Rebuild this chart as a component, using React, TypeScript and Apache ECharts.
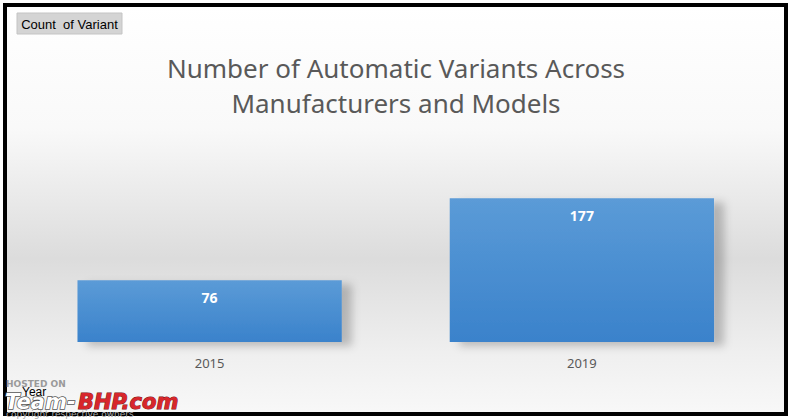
import React, { useEffect, useRef } from "react";
import * as echarts from "echarts";

const categories = ["2015", "2019"];
const variantCounts = [76, 177];
const titleLines = ["Number of Automatic Variants Across", "Manufacturers and Models"];

export default function App() {
  const ref = useRef<HTMLDivElement>(null);
  useEffect(() => {
    document.body.style.margin = "0";
    const chart = echarts.init(ref.current!, null, { renderer: "svg" });
    chart.setOption({
      animation: false,
      backgroundColor: "#ffffff",
      grid: { left: 23.5, right: 25, top: 139, bottom: 78 },
      xAxis: {
        type: "category",
        data: categories,
        axisLine: { show: false },
        axisTick: { show: false },
        axisLabel: { color: "#595959", fontSize: 13, margin: 14, fontFamily: "Noto Sans" },
      },
      yAxis: { type: "value", min: 0, max: 250, show: false, splitLine: { show: false } },
      graphic: [
        {
          type: "rect",
          z: -10,
          shape: { x: 5, y: 5, width: 781, height: 409 },
          style: {
            fill: new echarts.graphic.LinearGradient(0, 0, 0, 1, [
              { offset: 0, color: "#ffffff" },
              { offset: 0.3, color: "#f9f9f9" },
              { offset: 0.62, color: "#dcdcdc" },
              { offset: 0.85, color: "#efefef" },
              { offset: 1, color: "#f8f8f8" },
            ]),
            stroke: "#000000",
            lineWidth: 4,
          },
        },
        {
          type: "rect",
          shape: { x: 17, y: 13, width: 105, height: 21 },
          style: { fill: "#d4d4d4", stroke: "#c4c4c4", lineWidth: 1 },
        },
        {
          type: "text",
          x: 69.5,
          y: 24,
          style: {
            text: "Count  of Variant",
            fill: "#000000",
            font: "13px 'Liberation Sans'",
            align: "center",
            verticalAlign: "middle",
          },
        },
        {
          type: "text",
          x: 396,
          y: 68,
          style: {
            text: titleLines[0],
            fill: "#595959",
            font: "26px 'Noto Sans'",
            align: "center",
            verticalAlign: "middle",
          },
        },
        {
          type: "text",
          x: 396,
          y: 103,
          style: {
            text: titleLines[1],
            fill: "#595959",
            font: "26px 'Noto Sans'",
            align: "center",
            verticalAlign: "middle",
          },
        },
        {
          type: "text",
          x: 6,
          y: 384,
          style: { text: "HOSTED ON", fill: "#9a9a9a", font: "bold 9px 'DejaVu Sans'", verticalAlign: "middle" },
        },
        {
          type: "text",
          x: 22,
          y: 392,
          style: { text: "Year", fill: "#000000", font: "12px 'Liberation Sans'", verticalAlign: "middle" },
        },
        {
          type: "text",
          x: 5,
          y: 402,
          style: {
            text: "Team-",
            fill: "#ffffff",
            stroke: "#555555",
            lineWidth: 1.5,
            font: "italic bold 21px 'DejaVu Sans'",
            verticalAlign: "middle",
          },
        },
        {
          type: "text",
          x: 78,
          y: 402,
          style: {
            text: "BHP.com",
            fill: "#d8262b",
            stroke: "#7a1010",
            lineWidth: 1,
            font: "italic bold 21px 'DejaVu Sans'",
            verticalAlign: "middle",
          },
        },
        {
          type: "text",
          x: 6,
          y: 414,
          style: { text: "copyright respective owners", fill: "#a8a8a8", font: "9px 'DejaVu Sans'", verticalAlign: "middle" },
        },
      ],
      series: [
        {
          type: "bar",
          data: variantCounts,
          barWidth: "71%",
          itemStyle: {
            color: new echarts.graphic.LinearGradient(0, 0, 0, 1, [
              { offset: 0, color: "#5b9bd7" },
              { offset: 1, color: "#3a82cb" },
            ]),
            shadowColor: "rgba(0,0,0,0.22)",
            shadowBlur: 8,
            shadowOffsetX: 10,
            shadowOffsetY: 4,
          },
          label: {
            show: true,
            position: "insideTop",
            distance: 10,
            color: "#ffffff",
            fontWeight: "bold",
            fontSize: 14,
            fontFamily: "Noto Sans",
          },
        },
      ],
    });
    return () => chart.dispose();
  }, []);
  return <div ref={ref} style={{ position: "absolute", left: 0, top: 0, width: 793, height: 420 }} />;
}
